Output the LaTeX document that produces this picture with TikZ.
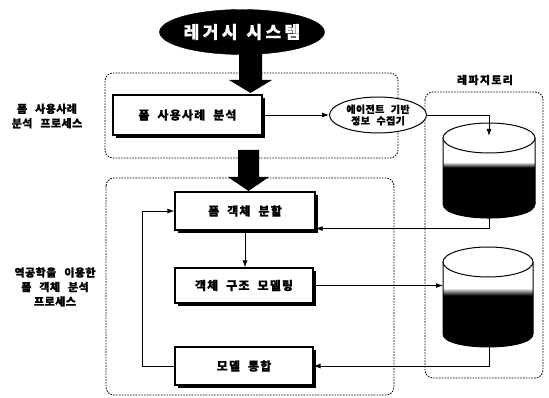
\documentclass[tikz,border=0pt]{standalone}
\usepackage{fontspec}
\setmainfont{Noto Sans CJK KR}
\usetikzlibrary{shapes.geometric,shadows,arrows.meta}
\newcommand{\boxfont}{\fontsize{12}{14}\selectfont\bfseries\addfontfeature{LetterSpace=10,FakeBold=0.8}\spaceskip=8pt plus 1pt\relax}
\newcommand{\labfont}{\fontsize{11}{14.5}\selectfont\bfseries\addfontfeature{LetterSpace=4,FakeBold=0.8}\spaceskip=8pt plus 1pt\relax}
\newcommand{\ellfont}{\fontsize{10}{11.5}\selectfont\bfseries\addfontfeature{LetterSpace=4,FakeBold=0.8}\spaceskip=6.5pt plus 1pt\relax}
\newcommand{\repofont}{\fontsize{11}{13}\selectfont\bfseries\addfontfeature{LetterSpace=12,FakeBold=0.8}}
\newcommand{\topfont}{\fontsize{17}{19}\selectfont\bfseries\addfontfeature{LetterSpace=20,FakeBold=0.8}\spaceskip=9pt plus 1pt\relax}
\begin{document}
\begin{tikzpicture}[x=1pt,y=-1pt,
  every node/.style={inner sep=0pt},
  procbox/.style={draw=black, line width=1.1pt, fill=white, font=\boxfont,
    drop shadow={shadow xshift=3pt, shadow yshift=-3pt, fill=black, opacity=1}},
  group/.style={draw=black, line width=0.8pt, dash pattern=on 1.6pt off 1.2pt, rounded corners=8pt},
  conn/.style={draw=black, line width=0.9pt, -{Latex[length=7pt,width=5pt]}},
  bigarrow/.style={fill=black},
  cylline/.style={draw=black, line width=1pt}]
\fill[white] (0,0) rectangle (549,398);
\useasboundingbox (0,0) rectangle (549,398);

% dashed groups
\draw[group] (105,73) rectangle (398,158);
\draw[group] (106,178) rectangle (394,395);
\draw[group] (425,92) rectangle (543,378);

% big arrows
\fill[bigarrow] (239,48) -- (262,48) -- (262,80) -- (272,80) -- (250.5,93) -- (229,80) -- (239,80) -- cycle;
\fill[bigarrow] (238,150) -- (259,150) -- (259,177) -- (269,177) -- (248.5,191) -- (228,177) -- (238,177) -- cycle;

% top ellipse
\node[ellipse, fill=black, draw=black, minimum width=165pt, minimum height=45pt,
  text=white, font=\topfont] (legacy) at (242,32) {레거시 시스템};

% labels
\node[font=\labfont, align=center] (lab1) at (47,116) {폼 사용사례\\분석 프로세스};
\node[font=\labfont, align=center] (lab2) at (55,287) {역공학을 이용한\\폼 객체 분석\\프로세스};
\node[font=\repofont] (repo) at (485,80) {레파지토리};

% process boxes
\node[procbox, minimum width=149pt, minimum height=40pt] (usecase) at (187.5,115) {폼 사용사례 분석};
\node[procbox, minimum width=140pt, minimum height=38pt] (split) at (245,211) {폼 객체 분할};
\node[procbox, minimum width=138pt, minimum height=35pt] (model) at (244,285.5) {객체 구조 모델링};
\node[procbox, minimum width=138pt, minimum height=38pt] (integ) at (244,366) {모델 통합};

% agent ellipse
\node[ellipse, draw=black, line width=1pt, fill=white, minimum width=97pt, minimum height=36pt,
  align=center, font=\ellfont] (agent) at (378,115) {에이전트 기반\\정보 수집기};

% cylinder 1
\fill[black] (443,167) -- (443,204) .. controls (443,222.7) and (535,222.7) .. (535,204) -- (535,167) -- cycle;
\shade[top color=white, bottom color=black] (443,162) rectangle (535,167.5);
\draw[cylline] (443,138) -- (443,204) .. controls (443,222.7) and (535,222.7) .. (535,204) -- (535,138);
\draw[cylline, fill=white] (489,138) ellipse [x radius=46, y radius=15];
\coordinate (c1in) at (489,136);
\coordinate (c1bot) at (489,218);

% cylinder 2
\fill[black] (443,295) -- (443,334) .. controls (443,351.3) and (533,351.3) .. (533,334) -- (533,295) -- cycle;
\shade[top color=white, bottom color=black] (443,288) rectangle (533,295.5);
\draw[cylline] (443,262) -- (443,334) .. controls (443,351.3) and (533,351.3) .. (533,334) -- (533,262);
\draw[cylline, fill=white] (488,262) ellipse [x radius=45, y radius=15];
\coordinate (c2left) at (443,287);
\coordinate (c2bot) at (489,347);

% connectors
\draw[conn] (usecase.east) -- (agent.west);
\draw[conn] (agent.east) -| (c1in);
\draw[conn] (c1bot) |- ([yshift=2pt]split.south east);
\draw[conn] (split.south) -- (split.south |- model.north);
\draw[conn] (model.east) -- (model.east -| c2left);
\draw[conn] (c2bot) |- (integ.east);
\draw[conn] (integ.west) -- ++(-32,0) |- (split.west);
\end{tikzpicture}
\end{document}
